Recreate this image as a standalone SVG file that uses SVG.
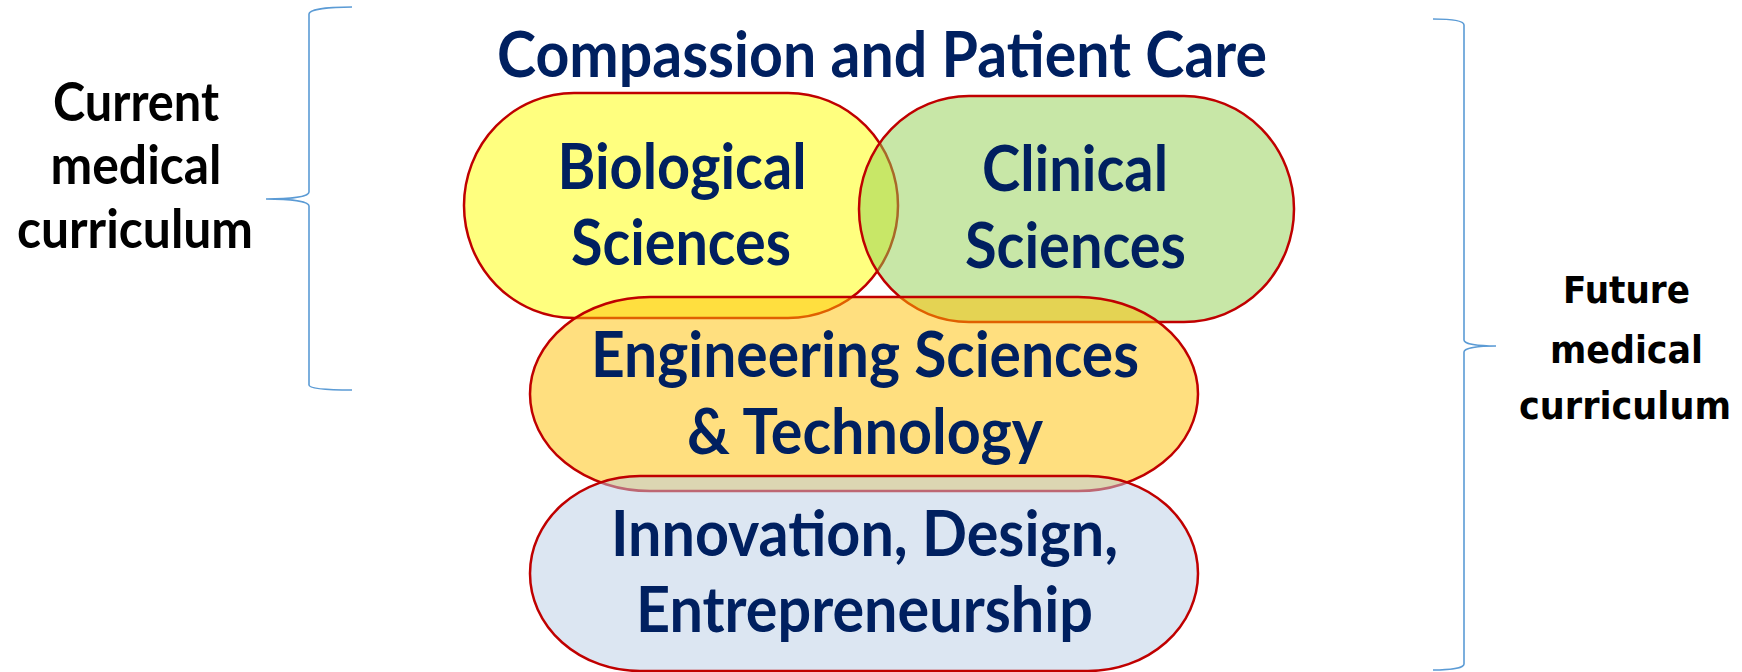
<svg xmlns="http://www.w3.org/2000/svg" width="1742" height="672" viewBox="0 0 1742 672">
  <style>
    .shape { stroke: #C00000; stroke-width: 2.5; fill-opacity: 0.5; }
    .lbl { font-family: Lato, "Open Sans", "Liberation Sans", sans-serif; font-weight: 700; font-size: 64px; fill: #002060; text-anchor: middle; }
    .side { font-family: Lato, "Open Sans", "Liberation Sans", sans-serif; font-weight: 700; font-size: 53px; fill: #000000; text-anchor: middle; }
    .side2 { font-family: "DejaVu Sans", Verdana, sans-serif; font-weight: 700; font-size: 37px; fill: #000000; text-anchor: middle; }
    .brace { fill: none; stroke: #5B9BD5; stroke-width: 1.6; }
  </style>
  <rect width="1742" height="672" fill="#FFFFFF"/>

  <g id="title">
    <text class="lbl" x="882" y="77" textLength="770" lengthAdjust="spacingAndGlyphs">Compassion and Patient Care</text>
  </g>

  <g id="biological">
    <rect class="shape" x="464" y="93" width="434" height="225" rx="110" ry="112.5" fill="#FFFF00"/>
    <text class="lbl" x="682" y="189" textLength="249" lengthAdjust="spacingAndGlyphs">Biological</text>
    <text class="lbl" x="681" y="265" textLength="220" lengthAdjust="spacingAndGlyphs">Sciences</text>
  </g>

  <g id="clinical">
    <rect class="shape" x="859" y="96" width="435" height="226" rx="110" ry="113" fill="#92D050"/>
    <text class="lbl" x="1075" y="191" textLength="186" lengthAdjust="spacingAndGlyphs">Clinical</text>
    <text class="lbl" x="1075.5" y="268" textLength="221" lengthAdjust="spacingAndGlyphs">Sciences</text>
  </g>

  <g id="engineering">
    <rect class="shape" x="530" y="297" width="668" height="194" rx="120" ry="97" fill="#FFC000"/>
    <text class="lbl" x="865" y="377" textLength="548" lengthAdjust="spacingAndGlyphs">Engineering Sciences</text>
    <text class="lbl" x="865" y="454" textLength="356" lengthAdjust="spacingAndGlyphs">&amp; Technology</text>
  </g>

  <g id="innovation">
    <rect class="shape" x="530" y="476" width="668" height="195" rx="110" ry="97.5" fill="#B9CDE5"/>
    <text class="lbl" x="864.5" y="556" textLength="507" lengthAdjust="spacingAndGlyphs">Innovation, Design,</text>
    <text class="lbl" x="864.5" y="632" textLength="457" lengthAdjust="spacingAndGlyphs">Entrepreneurship</text>
  </g>

  <g id="current-label">
    <text class="side" x="136" y="121" textLength="166" lengthAdjust="spacingAndGlyphs">Current</text>
    <text class="side" x="136" y="184" textLength="171" lengthAdjust="spacingAndGlyphs">medical</text>
    <text class="side" x="135" y="248" textLength="236" lengthAdjust="spacingAndGlyphs">curriculum</text>
  </g>

  <g id="future-label">
    <text class="side2" x="1626.5" y="303" textLength="127" lengthAdjust="spacingAndGlyphs">Future</text>
    <text class="side2" x="1626.5" y="363" textLength="153" lengthAdjust="spacingAndGlyphs">medical</text>
    <text class="side2" x="1625" y="419" textLength="212" lengthAdjust="spacingAndGlyphs">curriculum</text>
  </g>

  <g id="connectors">
    <path class="brace" d="M352,7 C330,7 309,9 309,14 L309,192 C309,197 290,199 266,199 C290,199 309,201 309,206 L309,385 C309,389 330,390 352,390"/>
    <path class="brace" d="M1433,19 C1450,19 1464,20 1464,25 L1464,340 C1464,344 1478,346 1496,346 C1478,346 1464,348 1464,352 L1464,664 C1464,668 1450,670 1433,670"/>
  </g>
</svg>
